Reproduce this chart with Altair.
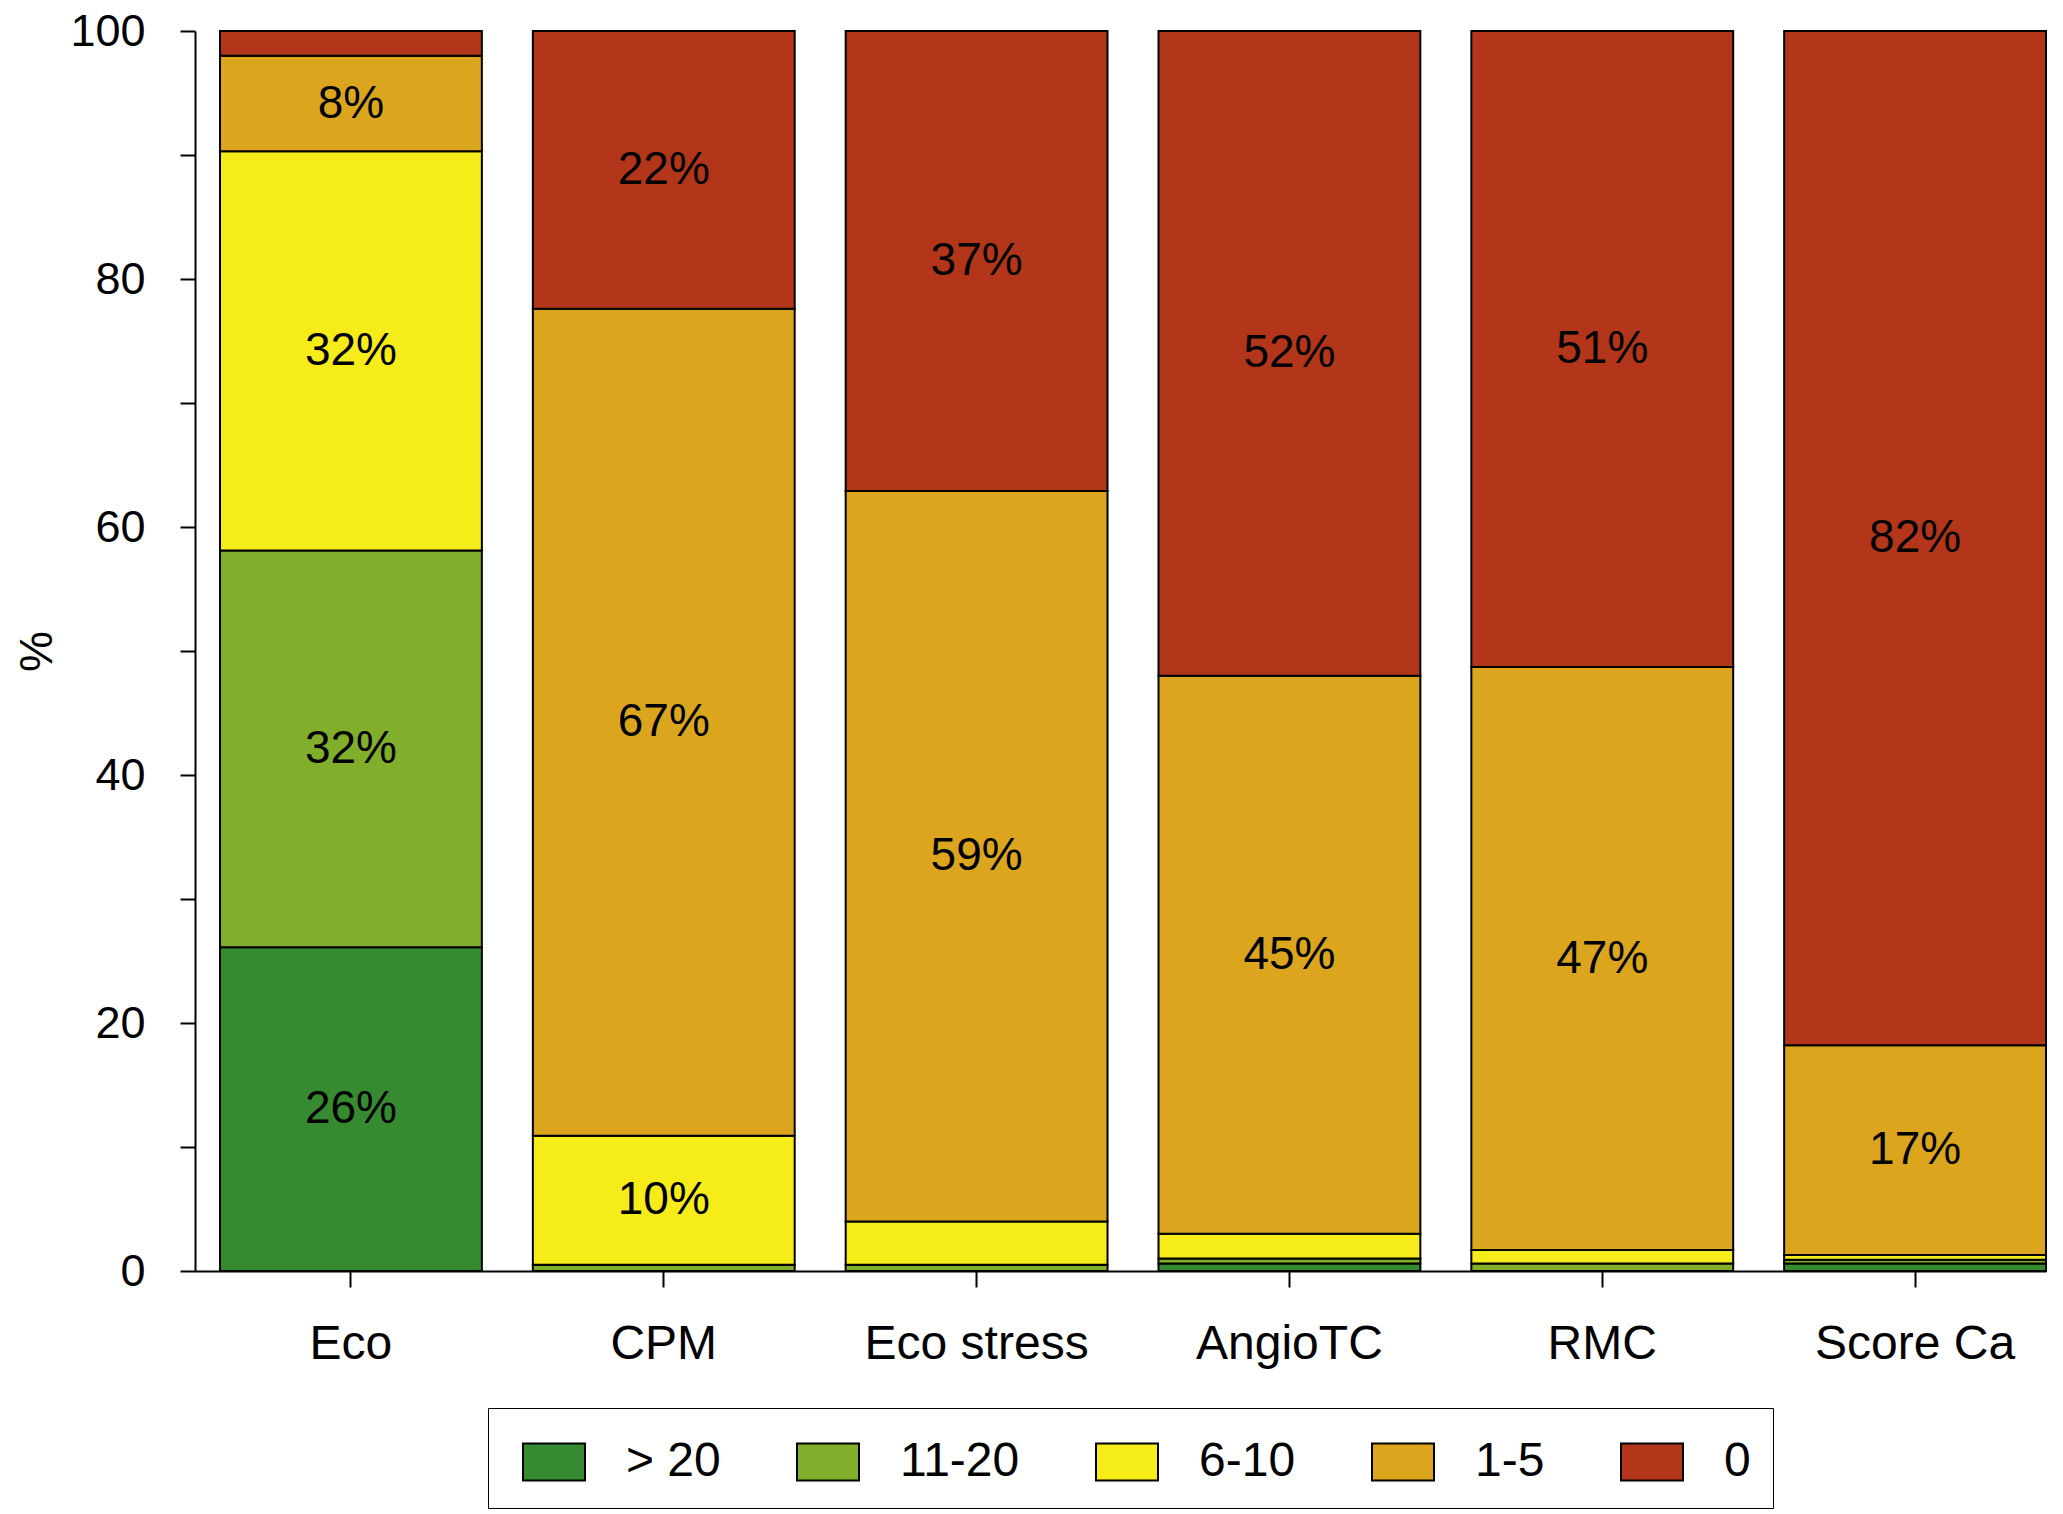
import altair as alt
import pandas as pd

categories = ["Eco", "CPM", "Eco stress", "AngioTC", "RMC", "Score Ca"]
groups = ["> 20", "11-20", "6-10", "1-5", "0"]
colors = ["#368B30", "#82AF2B", "#F6EC19", "#DBA61E", "#B3361A"]

# share (%) of each group per examination, bottom to top
gt20 = [26.1, 0.0, 0.0, 0.6, 0.0, 0.6]
g11_20 = [32.0, 0.5, 0.5, 0.4, 0.6, 0.3]
g6_10 = [32.2, 10.4, 3.5, 2.0, 1.1, 0.4]
g1_5 = [7.7, 66.7, 58.9, 45.0, 47.0, 16.9]
g0 = [2.0, 22.4, 37.1, 52.0, 51.3, 81.8]

series = [gt20, g11_20, g6_10, g1_5, g0]
rows = []
for gi, (g, vals) in enumerate(zip(groups, series)):
    for c, v in zip(categories, vals):
        rows.append({"exam": c, "group": g, "rank": gi, "value": v})
df = pd.DataFrame(rows)

FONT = "Liberation Sans, Arial, Helvetica, sans-serif"

base = alt.Chart(df).transform_stack(
    stack="value", groupby=["exam"], as_=["y0", "y1"],
    sort=[alt.SortField("rank", order="ascending")]
).transform_calculate(
    mid="(datum.y0 + datum.y1) / 2",
    label="format(round(datum.value), 'd') + '%'"
)

xenc = alt.X("exam:N", sort=categories, title=None,
             scale=alt.Scale(paddingInner=0.163, paddingOuter=0.04, align=1),
             axis=alt.Axis(labelAngle=0, labelFontSize=48, labelFont=FONT,
                           labelColor="black", labelPadding=33, tickSize=16,
                           labelLimit=500,
                           tickColor="black", domainColor="black",
                           domainWidth=2, tickWidth=2))

bars = base.mark_bar(stroke="black", strokeWidth=2).encode(
    x=xenc,
    y=alt.Y("y0:Q", title="%",
            scale=alt.Scale(domain=[0, 100], nice=False),
            axis=alt.Axis(values=list(range(0, 101, 10)),
                          labelExpr="datum.value % 20 == 0 ? datum.label : ''",
                          grid=False, tickSize=15, labelFontSize=45,
                          labelFont=FONT, labelColor="black", labelPadding=35,
                          titleFontSize=46, titleFont=FONT, titleFontWeight="normal",
                          titleColor="black", titlePadding=8,
                          tickColor="black", domainColor="black",
                          domainWidth=2, tickWidth=2)),
    y2="y1:Q",
    color=alt.Color("group:N", scale=alt.Scale(domain=groups, range=colors),
                    title=None,
                    legend=alt.Legend(orient="none", legendX=293, legendY=1377,
                                      direction="horizontal", columns=5,
                                      symbolType="M-1,-0.6H1V0.6H-1Z",
                                      symbolSize=3844, symbolStrokeColor="black",
                                      symbolStrokeWidth=2, symbolOpacity=1,
                                      symbolOffset=12,
                                      labelFontSize=48, labelFont=FONT,
                                      labelColor="black", labelOffset=40,
                                      columnPadding=63, padding=22,
                                      strokeColor="black", fillColor="white")),
    order=alt.Order("rank:Q")
)

texts = base.transform_filter("datum.value >= 5").mark_text(
    fontSize=46, font=FONT, color="black"
).encode(
    x=alt.X("exam:N", sort=categories),
    y=alt.Y("mid:Q"),
    text="label:N"
)

chart = alt.layer(bars, texts).properties(
    width=1851, height=1240,
    autosize=alt.AutoSizeParams(type="none"),
    padding={"left": 187, "top": 23, "right": 8, "bottom": 240}
).configure_view(stroke=None)

chart.save("out.html", embed_options={"renderer": "svg", "actions": False})
